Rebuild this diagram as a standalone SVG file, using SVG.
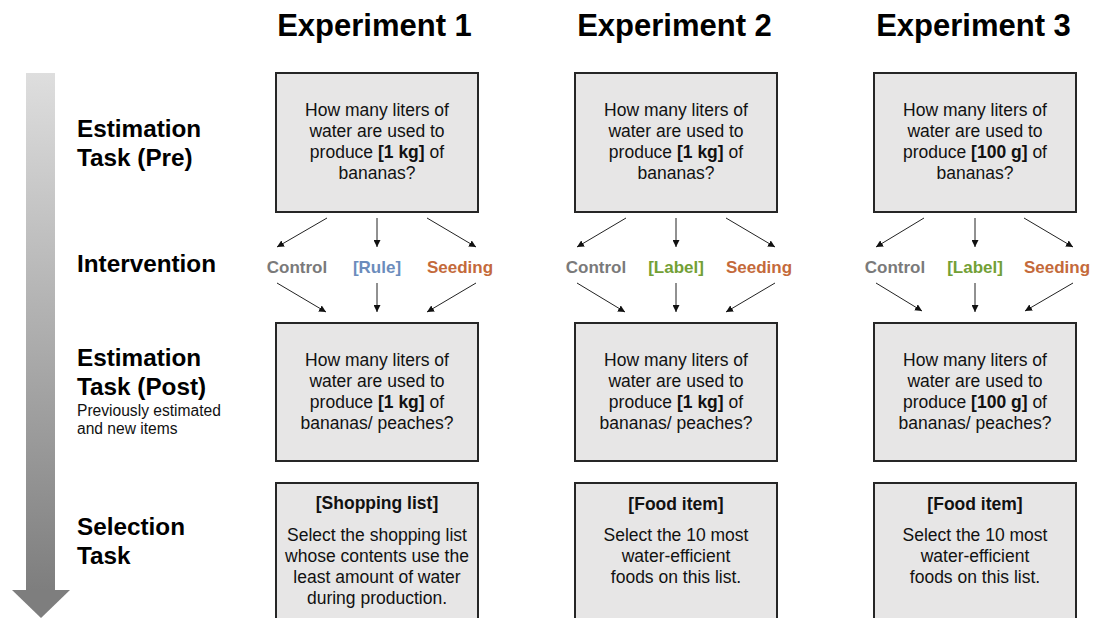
<svg xmlns="http://www.w3.org/2000/svg" width="1094" height="618" viewBox="0 0 1094 618">
<defs>
<linearGradient id="tl" x1="0" y1="0" x2="0" y2="1">
<stop offset="0" stop-color="#dedede"/>
<stop offset="1" stop-color="#7e7e7e"/>
</linearGradient>
<marker id="ah" viewBox="0 0 10 10" refX="10" refY="5" markerWidth="7" markerHeight="7" markerUnits="userSpaceOnUse" orient="auto">
<path d="M0,0 L10,5 L0,10 z" fill="#111"/>
</marker>
<style>
.box{fill:#e7e6e6;stroke:#262626;stroke-width:2}
.t{font-family:"Liberation Sans",Arial,sans-serif;font-size:17.5px;fill:#111;text-anchor:middle}
.b{font-weight:bold}
.title{font-family:"Liberation Sans",Arial,sans-serif;font-size:31px;font-weight:bold;fill:#000;text-anchor:middle}
.lab{font-family:"Liberation Sans",Arial,sans-serif;font-size:24.3px;font-weight:bold;fill:#000}
.sub{font-family:"Liberation Sans",Arial,sans-serif;font-size:15.6px;fill:#111}
.iv{font-family:"Liberation Sans",Arial,sans-serif;font-size:17px;font-weight:bold;text-anchor:middle}
.ctl{fill:#7a7a7a}
.rule{fill:#6b8cbc}
.lbl{fill:#73a035}
.seed{fill:#c46a3b}
.c{stroke:#222;stroke-width:1;fill:none;marker-end:url(#ah)}
</style>
</defs>
<rect width="1094" height="618" fill="#fff"/>

<g id="timeline">
<rect x="26" y="73" width="29" height="518" fill="url(#tl)"/>
<polygon points="12,590 70,590 41,618" fill="#7e7e7e"/>
</g>

<g id="row-labels">
<text class="lab" x="77" y="137">Estimation</text>
<text class="lab" x="77" y="166">Task (Pre)</text>
<text class="lab" x="77" y="272">Intervention</text>
<text class="lab" x="77" y="366">Estimation</text>
<text class="lab" x="77" y="395">Task (Post)</text>
<text class="sub" x="77" y="416">Previously estimated</text>
<text class="sub" x="77" y="434">and new items</text>
<text class="lab" x="77" y="535">Selection</text>
<text class="lab" x="77" y="564">Task</text>
</g>

<g id="titles">
<text class="title" x="374.5" y="36">Experiment 1</text>
<text class="title" x="674.5" y="36">Experiment 2</text>
<text class="title" x="973.5" y="36">Experiment 3</text>
</g>

<g id="e1-pre">
<rect class="box" x="276" y="73" width="202" height="139"/>
<text class="t" x="377" y="116">How many liters of</text>
<text class="t" x="377" y="137">water are used to</text>
<text class="t" x="377" y="158">produce <tspan class="b">[1 kg]</tspan> of</text>
<text class="t" x="377" y="179">bananas?</text>
</g>
<g id="e2-pre">
<rect class="box" x="575" y="73" width="202" height="139"/>
<text class="t" x="676" y="116">How many liters of</text>
<text class="t" x="676" y="137">water are used to</text>
<text class="t" x="676" y="158">produce <tspan class="b">[1 kg]</tspan> of</text>
<text class="t" x="676" y="179">bananas?</text>
</g>
<g id="e3-pre">
<rect class="box" x="874" y="73" width="202" height="139"/>
<text class="t" x="975" y="116">How many liters of</text>
<text class="t" x="975" y="137">water are used to</text>
<text class="t" x="975" y="158">produce <tspan class="b">[100 g]</tspan> of</text>
<text class="t" x="975" y="179">bananas?</text>
</g>

<g id="e1-interventions">
<text class="iv ctl" x="297" y="273">Control</text>
<text class="iv rule" x="377" y="273">[Rule]</text>
<text class="iv seed" x="460" y="273">Seeding</text>
</g>
<g id="e2-interventions">
<text class="iv ctl" x="596" y="273">Control</text>
<text class="iv lbl" x="676" y="273">[Label]</text>
<text class="iv seed" x="759" y="273">Seeding</text>
</g>
<g id="e3-interventions">
<text class="iv ctl" x="895" y="273">Control</text>
<text class="iv lbl" x="975" y="273">[Label]</text>
<text class="iv seed" x="1057" y="273">Seeding</text>
</g>

<g id="e1-post">
<rect class="box" x="276" y="323" width="202" height="138"/>
<text class="t" x="377" y="366">How many liters of</text>
<text class="t" x="377" y="387">water are used to</text>
<text class="t" x="377" y="408">produce <tspan class="b">[1 kg]</tspan> of</text>
<text class="t" x="377" y="429">bananas/ peaches?</text>
</g>
<g id="e2-post">
<rect class="box" x="575" y="323" width="202" height="138"/>
<text class="t" x="676" y="366">How many liters of</text>
<text class="t" x="676" y="387">water are used to</text>
<text class="t" x="676" y="408">produce <tspan class="b">[1 kg]</tspan> of</text>
<text class="t" x="676" y="429">bananas/ peaches?</text>
</g>
<g id="e3-post">
<rect class="box" x="874" y="323" width="202" height="138"/>
<text class="t" x="975" y="366">How many liters of</text>
<text class="t" x="975" y="387">water are used to</text>
<text class="t" x="975" y="408">produce <tspan class="b">[100 g]</tspan> of</text>
<text class="t" x="975" y="429">bananas/ peaches?</text>
</g>

<g id="e1-selection">
<rect class="box" x="276" y="483" width="202" height="150"/>
<text class="t b" x="377" y="509">[Shopping list]</text>
<text class="t" x="377" y="541">Select the shopping list</text>
<text class="t" x="377" y="562">whose contents use the</text>
<text class="t" x="377" y="583">least amount of water</text>
<text class="t" x="377" y="604">during production.</text>
</g>
<g id="e2-selection">
<rect class="box" x="575" y="483" width="202" height="150"/>
<text class="t b" x="676" y="510">[Food item]</text>
<text class="t" x="676" y="541">Select the 10 most</text>
<text class="t" x="676" y="562">water-efficient</text>
<text class="t" x="676" y="583">foods on this list.</text>
</g>
<g id="e3-selection">
<rect class="box" x="874" y="483" width="202" height="150"/>
<text class="t b" x="975" y="510">[Food item]</text>
<text class="t" x="975" y="541">Select the 10 most</text>
<text class="t" x="975" y="562">water-efficient</text>
<text class="t" x="975" y="583">foods on this list.</text>
</g>

<g id="connectors">
<line class="c" x1="327" y1="218" x2="277" y2="247"/>
<line class="c" x1="377" y1="218" x2="377" y2="247"/>
<line class="c" x1="427" y1="218" x2="476" y2="247"/>
<line class="c" x1="277" y1="283" x2="326" y2="312"/>
<line class="c" x1="377" y1="283" x2="377" y2="312"/>
<line class="c" x1="476" y1="283" x2="427" y2="312"/>

<line class="c" x1="626" y1="218" x2="577" y2="247"/>
<line class="c" x1="676" y1="218" x2="676" y2="247"/>
<line class="c" x1="726" y1="218" x2="775" y2="247"/>
<line class="c" x1="577" y1="283" x2="625" y2="312"/>
<line class="c" x1="676" y1="283" x2="676" y2="312"/>
<line class="c" x1="775" y1="283" x2="726" y2="312"/>

<line class="c" x1="924" y1="218" x2="876" y2="247"/>
<line class="c" x1="975" y1="218" x2="975" y2="247"/>
<line class="c" x1="1024" y1="218" x2="1073" y2="247"/>
<line class="c" x1="876" y1="283" x2="922" y2="311"/>
<line class="c" x1="975" y1="283" x2="975" y2="312"/>
<line class="c" x1="1073" y1="283" x2="1025" y2="311"/>
</g>
</svg>
